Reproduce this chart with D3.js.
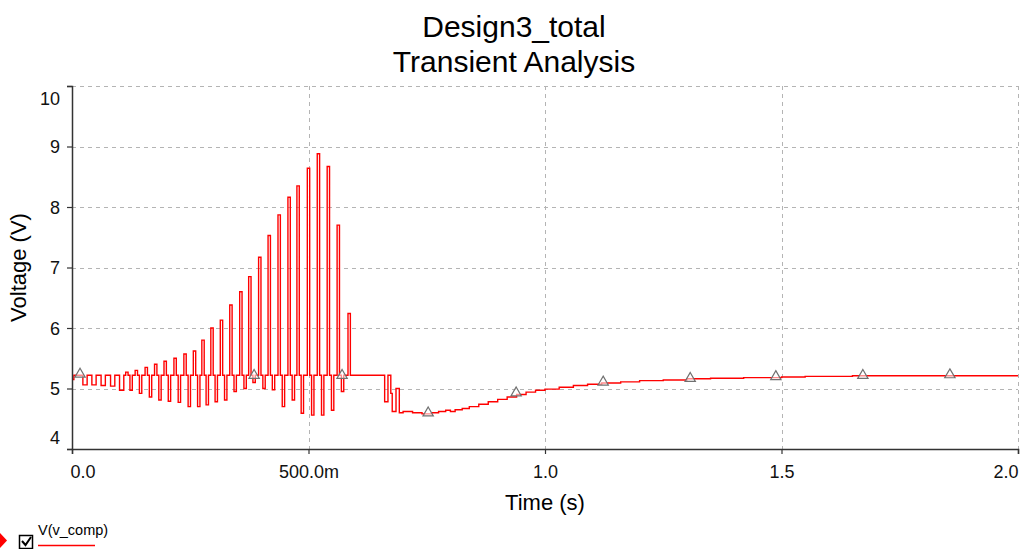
<!DOCTYPE html>
<html><head><meta charset="utf-8">
<script src="https://cdn.jsdelivr.net/npm/d3@7/dist/d3.min.js"></script>
<style>
html,body{margin:0;padding:0;background:#fff;}
svg{display:block;font-family:"Liberation Sans",Arial,sans-serif;}
</style></head>
<body>
<svg id="chart" width="1021" height="549"></svg>
<script>
// ---- data ----
const titleLines = ["Design3_total", "Transient Analysis"];
const xLabel = "Time (s)";
const yLabel = "Voltage (V)";
const seriesName = "V(v_comp)";
const xTicks = [0, 0.5, 1.0, 1.5, 2.0];
const xTickLabels = ["0.0", "500.0m", "1.0", "1.5", "2.0"];
const yTicks = [4, 5, 6, 7, 8, 9, 10];
const baseVolt = 5.22;
// early small oscillation dips
const earlyDipTimes = [0.0275, 0.0465, 0.066, 0.086, 0.105];
const earlyDipVolts = [5.06, 5.06, 5.05, 5.04, 4.97];
// growing oscillation: peak times, peak values, following trough values
const peakTimes = [0.116, 0.136, 0.157, 0.177, 0.197, 0.218, 0.239, 0.259, 0.277, 0.296, 0.316, 0.336, 0.357, 0.376, 0.397, 0.417, 0.438, 0.459, 0.478, 0.500, 0.521, 0.542, 0.563, 0.586];
const peakVolts = [5.27, 5.30, 5.35, 5.40, 5.45, 5.50, 5.57, 5.62, 5.80, 6.00, 6.13, 6.38, 6.60, 6.85, 7.17, 7.53, 7.87, 8.16, 8.35, 8.64, 8.88, 8.67, 7.70, 6.24];
const troughVolts = [4.97, 4.92, 4.86, 4.81, 4.79, 4.77, 4.70, 4.70, 4.73, 4.78, 4.81, 4.95, 5.0, 5.1, 5.0, 4.98, 4.70, 4.81, 4.59, 4.56, 4.56, 4.64, 4.95, 5.22];
// settling tail (time, volt)
const tailTimes = [0.592, 0.661, 0.668, 0.674, 0.677, 0.685, 0.692, 0.700, 0.72, 0.74, 0.76, 0.775, 0.79, 0.80, 0.81, 0.825, 0.84, 0.86, 0.88, 0.90, 0.92, 0.94, 0.96, 0.98, 1.00, 1.03, 1.06, 1.09, 1.12, 1.16, 1.20, 1.25, 1.30, 1.35, 1.42, 1.50, 1.55, 1.65, 2.0];
const tailVolts = [5.22, 4.78, 5.22, 4.92, 4.62, 5.0, 4.60, 4.62, 4.60, 4.58, 4.60, 4.62, 4.64, 4.62, 4.65, 4.67, 4.70, 4.74, 4.78, 4.82, 4.86, 4.90, 4.94, 4.97, 4.99, 5.02, 5.05, 5.07, 5.09, 5.11, 5.13, 5.14, 5.16, 5.17, 5.18, 5.19, 5.20, 5.21, 5.21];
// markers
const markerTimes = [0.017, 0.385, 0.571, 0.753, 0.939, 1.123, 1.307, 1.488, 1.672, 1.856];
const markerVolts = [5.22, 5.2, 5.2, 4.58, 4.91, 5.09, 5.15, 5.18, 5.2, 5.21];

// ---- build series points ----
const pts = [[0, 5.15], [0.004, baseVolt]];
earlyDipTimes.forEach((t, i) => { pts.push([t - 0.0045, earlyDipVolts[i]]); pts.push([t + 0.0045, baseVolt]); });
peakTimes.forEach((t, i) => {
  pts.push([t - 0.0025, peakVolts[i]]);
  pts.push([t + 0.0025, baseVolt]);
  const tt = t + 0.009;
  pts.push([tt - 0.0025, troughVolts[i]]);
  pts.push([tt + 0.0025, baseVolt]);
});
tailTimes.forEach((t, i) => pts.push([t, tailVolts[i]]));

// ---- chart ----
const svg = d3.select("#chart");
const L = 72, R = 1018, T = 86, B = 449;
const x = d3.scaleLinear().domain([0, 2]).range([L, R]);
const y = d3.scaleLinear().domain([4, 10]).range([B, T]);

// grid
const grid = svg.append("g").attr("stroke", "#b4b4b4").attr("stroke-dasharray", "4,4").attr("stroke-width", 1);
grid.selectAll("line.h").data(yTicks.filter(v => v > 4)).join("line")
  .attr("x1", L).attr("x2", R).attr("y1", d => Math.round(y(d)) + 0.5).attr("y2", d => Math.round(y(d)) + 0.5);
grid.selectAll("line.v").data(xTicks.filter(v => v > 0)).join("line")
  .attr("y1", T).attr("y2", B).attr("x1", d => Math.round(x(d)) + 0.5).attr("x2", d => Math.round(x(d)) + 0.5);

// line
const line = d3.line().x(d => x(d[0])).y(d => y(d[1])).curve(d3.curveStepAfter);
svg.append("path").datum(pts).attr("d", line).attr("fill", "none")
  .attr("stroke", "#ff0000").attr("stroke-width", 1.4);

// markers
const tri = d3.symbol().type(d3.symbolTriangle).size(46);
svg.append("g").selectAll("path").data(markerTimes).join("path")
  .attr("d", tri)
  .attr("transform", (d, i) => `translate(${x(d)},${y(markerVolts[i]) - 1})`)
  .attr("fill", "rgba(255,255,255,0.55)").attr("stroke", "#707070").attr("stroke-width", 1.2);

// axes
const xAxis = d3.axisBottom(x).tickValues(xTicks).tickSize(5).tickFormat((d, i) => xTickLabels[i]);
const gx = svg.append("g").attr("transform", `translate(0,${B})`).call(xAxis);
gx.select(".domain").attr("stroke", "#333").attr("stroke-width", 1.5);
gx.selectAll(".tick line").attr("stroke", "#333").attr("stroke-width", 1.2);
gx.selectAll(".tick text").attr("font-size", 18).attr("fill", "#111").attr("font-family", "Liberation Sans, Arial").attr("dy", "1.15em")
  .attr("text-anchor", (d, i) => i === 0 ? "start" : (i === xTicks.length - 1 ? "end" : "middle"))
  .attr("dx", (d, i) => i === 0 ? -2 : 0);

const yAxis = d3.axisLeft(y).tickValues(yTicks).tickSize(5).tickPadding(7).tickFormat(d3.format("d"));
const gy = svg.append("g").attr("transform", `translate(${L},0)`).call(yAxis);
gy.select(".domain").attr("stroke", "#333").attr("stroke-width", 1.5);
gy.selectAll(".tick line").attr("stroke", "#333").attr("stroke-width", 1.2);
gy.selectAll(".tick text").attr("font-size", 18).attr("fill", "#111").attr("font-family", "Liberation Sans, Arial")
  .attr("dy", d => d === 10 ? "1.0em" : (d === 4 ? "-0.3em" : "0.35em"));

// titles
svg.append("g").selectAll("text").data(titleLines).join("text")
  .attr("x", 514).attr("y", (d, i) => 37 + i * 35).attr("text-anchor", "middle")
  .attr("font-size", 30).attr("fill", "#000").text(d => d);
svg.append("text").attr("x", (L + R) / 2).attr("y", 510).attr("text-anchor", "middle")
  .attr("font-size", 22).attr("fill", "#000").text(xLabel);
svg.append("text").attr("transform", `translate(26,${(T + B) / 2}) rotate(-90)`).attr("text-anchor", "middle")
  .attr("font-size", 22).attr("fill", "#000").text(yLabel);

// legend
const lg = svg.append("g");
lg.append("path").attr("d", "M0,533 L7,540.5 L0,548 Z").attr("fill", "#ff0000");
lg.append("rect").attr("x", 19.5).attr("y", 535.5).attr("width", 13).attr("height", 13).attr("fill", "#fff").attr("stroke", "#000").attr("stroke-width", 1.5);
lg.append("path").attr("d", "M22,541 L25.5,545 L31,537").attr("fill", "none").attr("stroke", "#000").attr("stroke-width", 2);
lg.append("text").attr("x", 38).attr("y", 535).attr("font-size", 14.5).attr("fill", "#000").text(seriesName);
lg.append("line").attr("x1", 38).attr("x2", 95).attr("y1", 545.5).attr("y2", 545.5).attr("stroke", "#ff0000").attr("stroke-width", 1.5);
</script>
</body></html>
